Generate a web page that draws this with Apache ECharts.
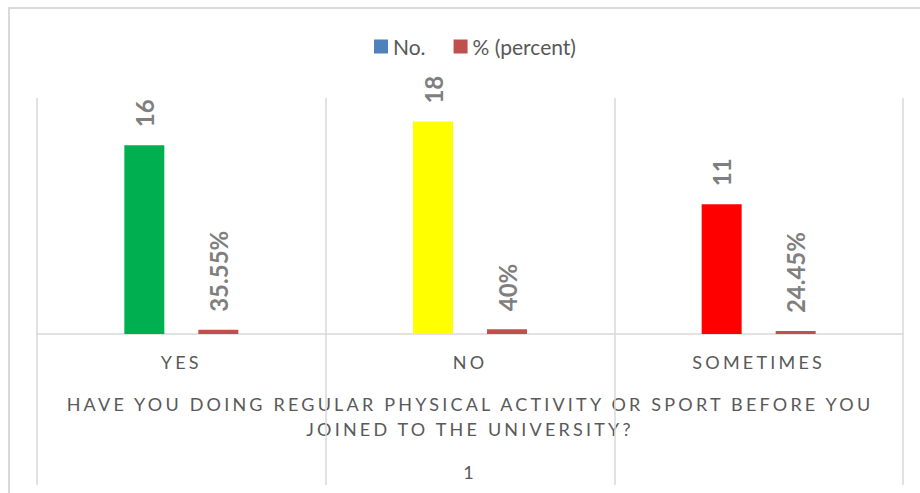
<!DOCTYPE html>
<html>
<head>
    <meta charset="utf-8">
    <title>ECharts</title>
    <script src="https://cdn.jsdelivr.net/npm/echarts@6/dist/echarts.min.js"></script>
    <style>
        html, body { margin: 0; padding: 0; background: #fff; }
        /* Excel style spaced-out axis text (svg renderer keeps it as real text) */
        #main text[fill="#595959"], #main text[fill="rgb(89,89,89)"] { letter-spacing: 3.2px; }
    </style>
</head>
<body>
    <div id="main" style="width: 920px;height:493px;"></div>
    <script>
        var myChart = echarts.init(document.getElementById("main"), null, { renderer: 'svg' });

        var categories = ['YES', 'NO', 'SOMETIMES'];
        var countValues = [16, 18, 11];
        var percentValues = [0.3555, 0.40, 0.2445];
        var countColors = ['#00b050', '#ffff00', '#ff0000'];
        var seriesNames = ['No.', '% (percent)'];
        var axisTitle = 'HAVE YOU DOING REGULAR PHYSICAL ACTIVITY OR SPORT BEFORE YOU\nJOINED TO THE UNIVERSITY?';
        var groupLabel = '1';

        var fontName = 'Lato, "Open Sans", sans-serif';
        var gridColor = '#d9d9d9';

        var labelStyle = {
            show: true,
            position: 'top',
            rotate: 90,
            align: 'left',
            verticalAlign: 'middle',
            distance: 18,
            color: '#7f7f7f',
            fontWeight: 'bold',
            fontSize: 24,
            fontFamily: fontName
        };

        option = {
            animation: false,
            backgroundColor: '#fff',
            legend: {
                data: seriesNames,
                left: 369,
                top: 31,
                icon: 'rect',
                itemWidth: 14,
                itemHeight: 14,
                itemGap: 28,
                textStyle: {
                    color: '#585858',
                    fontSize: 21,
                    fontFamily: fontName
                }
            },
            grid: {
                left: 37,
                right: 17,
                top: 98,
                bottom: 159,
                outerBoundsMode: 'none'
            },
            xAxis: {
                type: 'category',
                data: categories,
                axisLine: { lineStyle: { color: gridColor, width: 1.5 } },
                axisTick: {
                    show: true,
                    interval: 0,
                    length: 151,
                    lineStyle: { color: gridColor, width: 1.5 }
                },
                splitLine: {
                    show: true,
                    interval: 0,
                    lineStyle: { color: gridColor, width: 1.5 }
                },
                axisLabel: {
                    margin: 19,
                    color: '#595959',
                    fontSize: 18,
                    fontFamily: fontName
                },
                name: axisTitle,
                nameLocation: 'middle',
                nameGap: 57,
                nameTextStyle: {
                    color: '#595959',
                    fontSize: 18,
                    lineHeight: 25,
                    fontFamily: fontName
                }
            },
            yAxis: {
                type: 'value',
                min: 0,
                max: 20,
                show: false,
                splitLine: { show: false }
            },
            graphic: [{
                type: 'rect',
                shape: { x: 9, y: 8, width: 1000, height: 1000 },
                style: { fill: 'none', stroke: gridColor, lineWidth: 2 },
                silent: true
            }, {
                type: 'text',
                x: 470,
                y: 472,
                style: {
                    text: groupLabel,
                    fill: '#595959',
                    fontSize: 18,
                    fontFamily: fontName,
                    align: 'center',
                    verticalAlign: 'middle'
                }
            }],
            series: [{
                name: seriesNames[0],
                type: 'bar',
                barWidth: 40,
                barGap: '85%',
                itemStyle: { color: '#4f81bd' },
                label: labelStyle,
                data: countValues.map(function (v, i) {
                    return { value: v, itemStyle: { color: countColors[i] } };
                })
            }, {
                name: seriesNames[1],
                type: 'bar',
                barWidth: 40,
                barGap: '85%',
                itemStyle: { color: '#c0504d' },
                label: Object.assign({}, labelStyle, {
                    formatter: function (p) {
                        return +(p.value * 100).toFixed(2) + '%';
                    }
                }),
                data: percentValues
            }]
        };

        myChart.setOption(option);
    </script>
</body>
</html>
